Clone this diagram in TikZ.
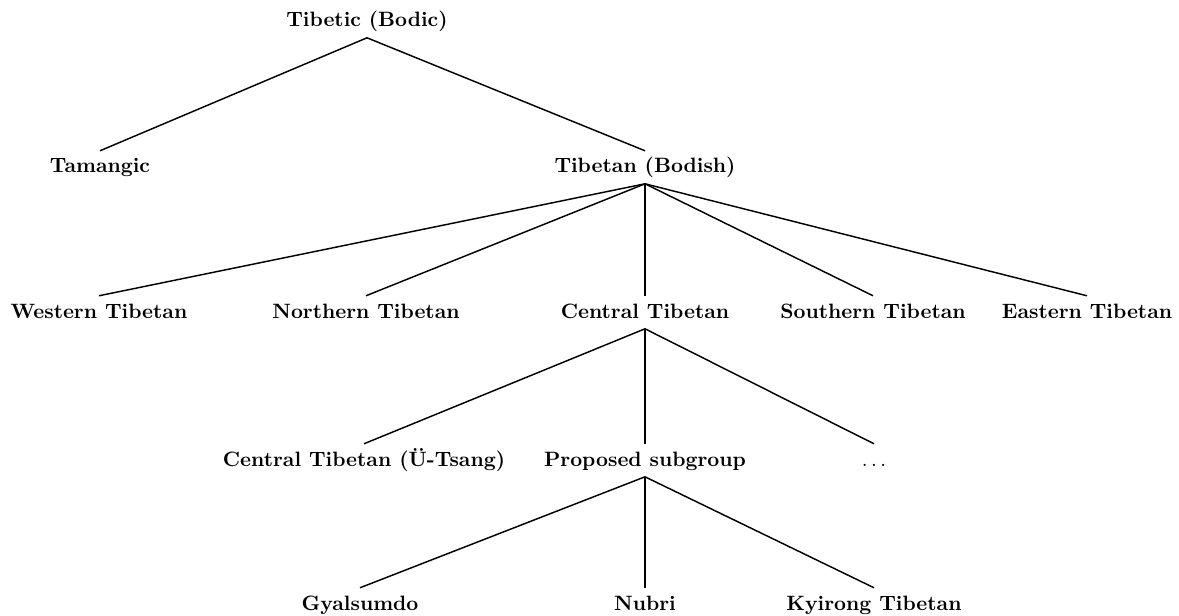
\documentclass[tikz,border=0pt]{standalone}
\usepackage{fontspec}
\begin{document}
\begin{tikzpicture}[x=0.4815pt,y=-0.4815pt,
  lang/.style={anchor=base,font=\bfseries,text height=0.75em,text depth=0.2em,inner xsep=2pt,inner ysep=3pt},
  br/.style={line width=0.7pt}]
\useasboundingbox (0,0) rectangle (1179,616);
\node[lang] (top) at (367,27) {Tibetic (Bodic)};
\node[lang] (tam) at (100,173) {Tamangic};
\node[lang] (bod) at (645,173) {Tibetan (Bodish)};
\node[lang] (wes) at (99,318) {Western Tibetan};
\node[lang] (nor) at (366,318) {Northern Tibetan};
\node[lang] (cen) at (645,318) {Central Tibetan};
\node[lang] (sou) at (873,318) {Southern Tibetan};
\node[lang] (eas) at (1087,318) {Eastern Tibetan};
\node[lang] (ut) at (364,466) {Central Tibetan (Ü-Tsang)};
\node[lang] (prop) at (645,466) {Proposed subgroup};
\node[lang] (dots) at (874,466) {$\ldots$};
\node[lang] (gya) at (360,610) {Gyalsumdo};
\node[lang] (nub) at (645,610) {Nubri};
\node[lang] (kyi) at (874,610) {Kyirong Tibetan};
\draw[br] (top.south) -- (tam.north);
\draw[br] (top.south) -- (bod.north);
\foreach \c in {wes,nor,cen,sou,eas} \draw[br] (bod.south) -- (\c.north);
\foreach \c in {ut,prop,dots} \draw[br] (cen.south) -- (\c.north);
\foreach \c in {gya,nub,kyi} \draw[br] (prop.south) -- (\c.north);
\end{tikzpicture}
\end{document}
